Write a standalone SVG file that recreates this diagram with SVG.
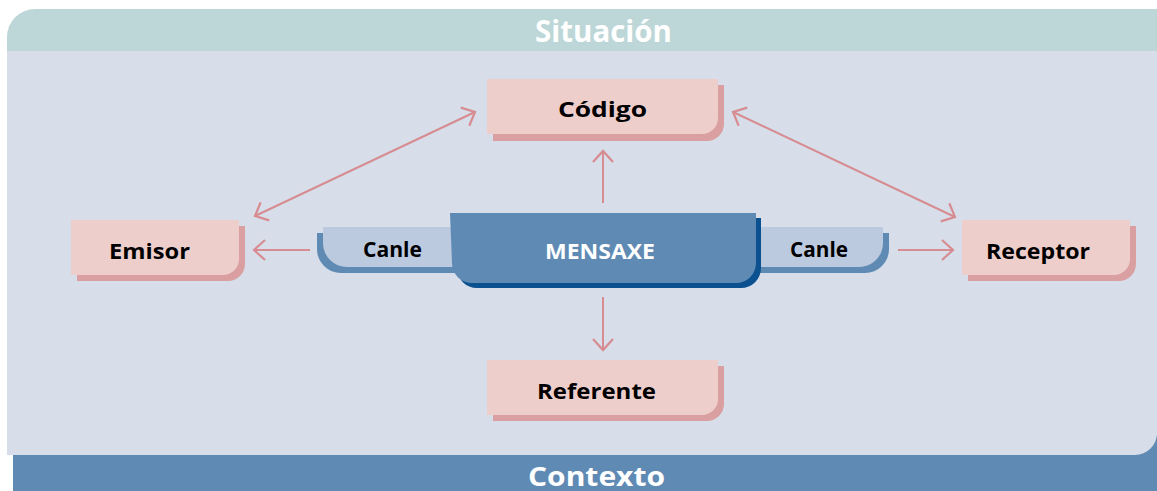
<svg xmlns="http://www.w3.org/2000/svg" width="1157" height="491" viewBox="0 0 1157 491">
<style>
.t{font-family:"Open Sans","Liberation Sans",sans-serif;font-weight:bold;fill:#000;}
.w{fill:#fff;}
.node{fill:#EECECB;}
.nshadow{fill:#D99FA1;}
.conn{stroke:#D68C90;stroke-width:2;fill:none;}
</style>
<defs>
<marker id="ah" viewBox="-13 -12 15 24" refX="0" refY="0" markerWidth="15" markerHeight="24" markerUnits="userSpaceOnUse" orient="auto-start-reverse" overflow="visible">
<path d="M-11,-10 L0,0 L-11,10" fill="none" stroke="#D68C90" stroke-width="2.2"/>
</marker>
</defs>
<g id="background">
<rect x="13" y="435" width="1144" height="56" fill="#5F8AB4"/>
<path d="M7,51 H1157 V433 A22,22 0 0 1 1135,455 H7 Z" fill="#D7DEEA"/>
<path d="M7,51 V37 A28,28 0 0 1 35,9 H1157 V51 Z" fill="#BDD6D7"/>
<text class="t w" x="535" y="42" font-size="30" textLength="137" lengthAdjust="spacingAndGlyphs">Situación</text>
<text class="t w" x="528" y="486" font-size="27" textLength="137" lengthAdjust="spacingAndGlyphs">Contexto</text>
</g>
<g id="connectors">
<line class="conn" x1="475" y1="112" x2="255" y2="216" marker-start="url(#ah)" marker-end="url(#ah)"/>
<line class="conn" x1="733" y1="112" x2="955" y2="217" marker-start="url(#ah)" marker-end="url(#ah)"/>
<line class="conn" x1="603" y1="203" x2="603" y2="151" marker-end="url(#ah)"/>
<line class="conn" x1="603" y1="297" x2="603" y2="350" marker-end="url(#ah)"/>
<line class="conn" x1="310" y1="250" x2="254" y2="250" marker-end="url(#ah)"/>
<line class="conn" x1="898" y1="250" x2="953" y2="250" marker-end="url(#ah)"/>
</g>
<g id="codigo">
<path class="nshadow" d="M493,85 H724 V124 A17,17 0 0 1 707,141 H493 Z"/>
<path class="node" d="M487,79 H718 V118 A16,16 0 0 1 702,134 H487 Z"/>
<text class="t" x="558" y="117" font-size="22" textLength="89" lengthAdjust="spacingAndGlyphs">Código</text>
</g>
<g id="emisor">
<path class="nshadow" d="M77,226 H245 V264 A17,17 0 0 1 228,281 H77 Z"/>
<path class="node" d="M71,220 H239 V259 A16,16 0 0 1 223,275 H71 Z"/>
<text class="t" x="109" y="259" font-size="22" textLength="81" lengthAdjust="spacingAndGlyphs">Emisor</text>
</g>
<g id="receptor">
<path class="nshadow" d="M968,226 H1136 V264 A17,17 0 0 1 1119,281 H968 Z"/>
<path class="node" d="M962,220 H1130 V259 A16,16 0 0 1 1114,275 H962 Z"/>
<text class="t" x="986" y="259" font-size="22" textLength="104" lengthAdjust="spacingAndGlyphs">Receptor</text>
</g>
<g id="referente">
<path class="nshadow" d="M493,366 H724 V404 A17,17 0 0 1 707,421 H493 Z"/>
<path class="node" d="M487,360 H718 V399 A16,16 0 0 1 702,415 H487 Z"/>
<text class="t" x="537" y="399" font-size="22" textLength="119" lengthAdjust="spacingAndGlyphs">Referente</text>
</g>
<g id="canle-left">
<path d="M317,233 H455 V273 H341 A24,24 0 0 1 317,249 Z" fill="#5F8AB4"/>
<path d="M323,227 H455 V267 H347 A24,24 0 0 1 323,243 Z" fill="#BCCAE0"/>
<text class="t" x="363" y="257" font-size="22" textLength="59" lengthAdjust="spacingAndGlyphs">Canle</text>
</g>
<g id="canle-right">
<path d="M752,233 H889 V249 A24,24 0 0 1 865,273 H752 Z" fill="#5F8AB4"/>
<path d="M752,227 H883 V243 A24,24 0 0 1 859,267 H752 Z" fill="#BCCAE0"/>
<text class="t" x="790" y="257" font-size="22" textLength="58" lengthAdjust="spacingAndGlyphs">Canle</text>
</g>
<g id="mensaxe">
<path d="M455,218 H761 V268 A20,20 0 0 1 741,288 H477 A20,20 0 0 1 457,268 Z" fill="#0B5190"/>
<path d="M450,213 H756 V263 A20,20 0 0 1 736,283 H472 A20,20 0 0 1 452,263 Z" fill="#5F8AB4"/>
<text class="t w" x="545" y="259" font-size="21" textLength="110" lengthAdjust="spacingAndGlyphs">MENSAXE</text>
</g>
</svg>
